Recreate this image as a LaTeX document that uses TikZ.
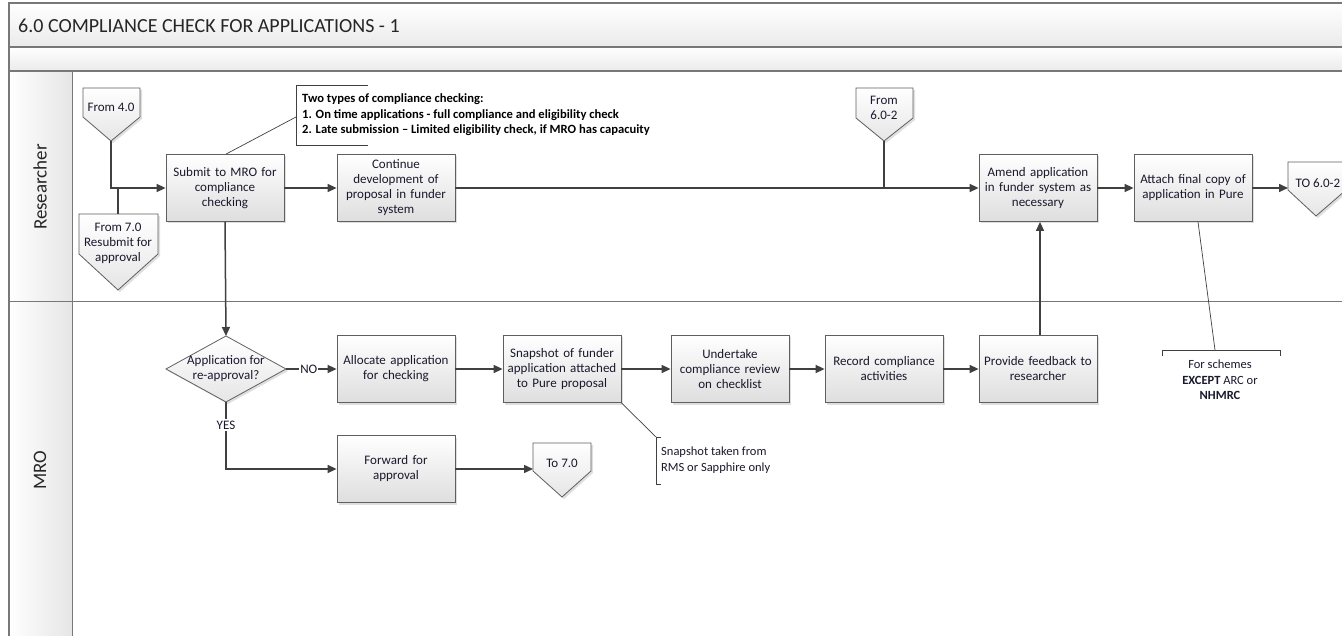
\documentclass[tikz,border=0pt]{standalone}
\usepackage{fontspec}
\setmainfont{Carlito}
\usetikzlibrary{arrows.meta,shadows}
\definecolor{ln}{RGB}{64,64,64}
\definecolor{bd}{RGB}{95,95,95}
\definecolor{txt}{RGB}{25,25,45}
\definecolor{frame}{RGB}{120,120,120}
\tikzset{
  proc/.style={draw=bd, line width=0.8pt, top color=white, bottom color=black!13,
    minimum width=118pt, minimum height=67pt, align=center, text width=116pt,
    inner sep=1pt, font=\fontsize{13}{15}\selectfont, text=txt,
    drop shadow={shadow xshift=2pt, shadow yshift=-2pt, opacity=0.25}},
  offp/.style={draw=bd, line width=0.8pt, top color=white, bottom color=black!10,
    drop shadow={shadow xshift=2pt, shadow yshift=-2pt, opacity=0.25}},
  lbl/.style={font=\fontsize{13}{15}\selectfont, text=txt, align=center, inner sep=0pt},
  conn/.style={draw=ln, line width=1.5pt, -{Triangle[length=9pt,width=8pt]}},
  plain/.style={draw=ln, line width=1.5pt},
  note/.style={draw=ln, line width=0.7pt},
  lane/.style={font=\fontsize{19}{22}\selectfont, text=black!85, rotate=90},
}
\begin{document}
\begin{tikzpicture}[x=1pt,y=-1pt]
\clip (0,0) rectangle (1342,636);
\fill[white] (0,0) rectangle (1342,636);
% frame and bands
\shade[top color=white, bottom color=black!8] (9,3) rectangle (1360,47);
\shade[top color=white, bottom color=black!8] (9,47) rectangle (1360,71);
\shade[left color=white, right color=black!10] (9,71) rectangle (72,700);
\draw[frame, line width=1.5pt] (9,700) -- (9,3) -- (1360,3);
\draw[frame, line width=1.5pt] (9,47) -- (1360,47);
\draw[frame, line width=1.5pt] (9,71) -- (1360,71);
\draw[frame, line width=1pt] (72,71) -- (72,700);
\draw[frame, line width=1pt] (9,302) -- (1360,302);
\node[anchor=west, font=\fontsize{20}{22}\selectfont, text=black!85, inner sep=0pt] (title) at (18,26) {6.0 COMPLIANCE CHECK FOR APPLICATIONS - 1};
\node[lane] (lr) at (40,187) {Researcher};
\node[lane] (lm) at (40,470) {MRO};

% off-page connectors
\draw[offp] (83,88) -- (140,88) -- (140,117) -- (111,141) -- (83,117) -- cycle;
\coordinate (f4tip) at (111,141);
\node[lbl] (f4) at (111,107) {From 4.0};
\draw[offp] (79,214) -- (158,214) -- (158,254) -- (118,290) -- (79,254) -- cycle;
\coordinate (f7top) at (118,214);
\node[lbl] (f7) at (118,243) {From 7.0\\Resubmit for\\approval};
\draw[offp] (856,88) -- (913,88) -- (913,118) -- (884,141) -- (856,118) -- cycle;
\coordinate (f6tip) at (884,141);
\node[lbl] (f6) at (884,108) {From\\6.0-2};
\draw[offp] (1288,162) -- (1346,162) -- (1346,190) -- (1316,216) -- (1288,190) -- cycle;
\coordinate (to6w) at (1288,188);
\node[lbl] (to6) at (1318,183) {TO 6.0-2};
\draw[offp] (533,443) -- (591,443) -- (591,471) -- (562,497) -- (533,471) -- cycle;
\coordinate (to7w) at (533,469);
\node[lbl] (to7) at (562,463) {To 7.0};

% process boxes
\node[proc] (sub) at (225,188) {Submit to MRO for\\compliance\\checking};
\node[proc] (cont) at (396,188) {Continue\\development of\\proposal in funder\\system};
\node[proc] (amd) at (1038,188) {Amend application\\in funder system as\\necessary};
\node[proc] (att) at (1193,188) {Attach final copy of\\application in Pure};
\node[proc] (alloc) at (396,369) {Allocate application\\for checking};
\node[proc] (snap) at (562,369) {Snapshot of funder\\application attached\\to Pure proposal};
\node[proc] (und) at (730,369) {Undertake\\compliance review\\on checklist};
\node[proc] (rec) at (884,369) {Record compliance\\activities};
\node[proc] (prov) at (1038,369) {Provide feedback to\\researcher};
\node[proc] (fwd) at (396,469) {Forward for\\approval};

% decision
\coordinate (dt) at (226,336);
\coordinate (dr) at (286,369);
\coordinate (db) at (226,402);
\coordinate (dl) at (166,369);
\draw[offp] (dt) -- (dr) -- (db) -- (dl) -- cycle;
\node[lbl] (dia) at (226,369) {Application for\\re-approval?};

% connectors
\draw[conn] (f4tip) |- (sub.west);
\draw[plain] (f7top) -- (f7top |- sub.west);
\draw[conn] (sub) -- (cont);
\draw[conn] (cont.east) -- (amd.west);
\draw[plain] (f6tip) -- (f6tip |- amd.west);
\draw[conn] (amd) -- (att);
\draw[conn] (att.east) -- (to6w);
\draw[conn] (sub.south) -- (dt);
\draw[conn] (dr) -- node[lbl, fill=white, inner sep=1pt, pos=0.45] (no) {NO} (alloc.west);
\draw[conn] (alloc) -- (snap);
\draw[conn] (snap) -- (und);
\draw[conn] (und) -- (rec);
\draw[conn] (rec) -- (prov);
\draw[conn] ([xshift=2pt]prov.north) -- ([xshift=2pt]amd.south);
\draw[conn] (db) |- (fwd.west);
\node[lbl, fill=white, inner sep=1.5pt] (yes) at (226,425) {YES};
\draw[conn] (fwd.east) -- (to7w);

% annotations
\coordinate (a1) at (296,117);
\draw[note] ([xshift=1pt]sub.north) -- (a1);
\draw[note] (368,85) -- (296,85) -- (296,145) -- (368,145);
\node[anchor=west, align=left, inner sep=0pt, font=\bfseries\fontsize{12.6}{15.5}\selectfont, text=black] (n1) at (302,115)
  {Two types of compliance checking:\\1. On time applications - full compliance and eligibility check\\2. Late submission -- Limited eligibility check, if MRO has capacuity};

\coordinate (a2) at (656,437);
\draw[note] (snap.south east) -- (a2);
\draw[note] (661,437) -- (656,437) -- (656,484) -- (661,484);
\node[anchor=west, align=left, inner sep=0pt, font=\fontsize{12.5}{16}\selectfont, text=txt] (n2) at (661,460)
  {Snapshot taken from\\RMS or Sapphire only};

\coordinate (a3) at (1215,350);
\draw[note] ([xshift=5pt]att.south) -- (a3);
\draw[note] (1162,356) -- (1162,350) -- (1280,350) -- (1280,356);
\node[lbl, font=\fontsize{12.5}{15.5}\selectfont] (n3) at (1220,380)
  {For schemes\\\textbf{EXCEPT} ARC or\\\textbf{NHMRC}};
\end{tikzpicture}
\end{document}
